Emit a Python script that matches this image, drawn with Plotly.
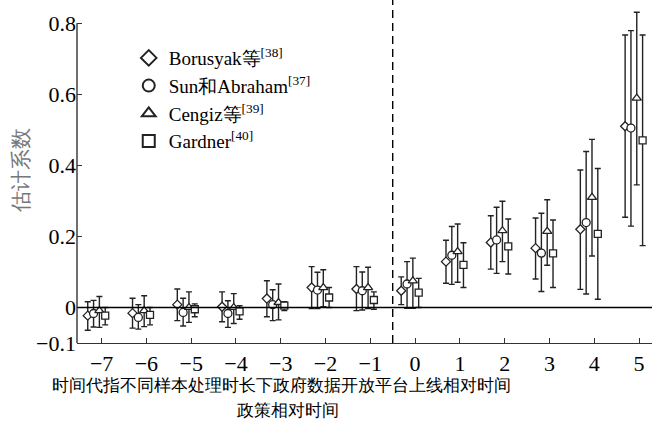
import plotly.graph_objects as go

# Relative period (event time) for each estimate
periods = [-7, -6, -5, -4, -3, -2, -1, 0, 1, 2, 3, 4, 5]

# Borusyak et al. estimator: point estimate, upper and lower CI bounds
borusyak = [-0.023, -0.016, 0.008, 0.002, 0.025, 0.056, 0.052, 0.047, 0.129, 0.183, 0.167, 0.220, 0.510]
borusyak_hi = [0.016, 0.026, 0.052, 0.044, 0.075, 0.115, 0.115, 0.086, 0.189, 0.258, 0.252, 0.387, 0.767]
borusyak_lo = [-0.064, -0.058, -0.037, -0.040, -0.026, -0.003, -0.009, 0.008, 0.068, 0.108, 0.080, 0.051, 0.254]

# Sun & Abraham estimator
sun = [-0.017, -0.028, -0.014, -0.017, 0.008, 0.049, 0.047, 0.066, 0.147, 0.190, 0.153, 0.239, 0.505]
sun_hi = [0.020, 0.008, 0.026, 0.019, 0.050, 0.099, 0.100, 0.129, 0.228, 0.282, 0.265, 0.439, 0.779]
sun_lo = [-0.055, -0.061, -0.052, -0.056, -0.037, -0.003, -0.007, -0.002, 0.065, 0.096, 0.045, 0.038, 0.229]

# Cengiz et al. estimator
cengiz = [-0.009, -0.009, 0.000, 0.000, 0.014, 0.056, 0.056, 0.075, 0.157, 0.216, 0.214, 0.310, 0.589]
cengiz_hi = [0.031, 0.033, 0.044, 0.039, 0.066, 0.106, 0.113, 0.139, 0.235, 0.299, 0.303, 0.473, 0.831]
cengiz_lo = [-0.056, -0.054, -0.042, -0.045, -0.035, 0.002, -0.003, -0.002, 0.071, 0.129, 0.119, 0.145, 0.345]

# Gardner estimator
gardner = [-0.023, -0.021, -0.005, -0.011, 0.005, 0.028, 0.021, 0.042, 0.120, 0.172, 0.152, 0.207, 0.470]
gardner_hi = [0.000, 0.000, 0.010, 0.005, 0.016, 0.056, 0.044, 0.082, 0.182, 0.249, 0.246, 0.391, 0.767]
gardner_lo = [-0.049, -0.049, -0.026, -0.033, -0.009, 0.000, -0.005, 0.000, 0.056, 0.094, 0.056, 0.023, 0.174]

series_names = ["Borusyak等<sup>[38]</sup>", "Sun和Abraham<sup>[37]</sup>",
                "Cengiz等<sup>[39]</sup>", "Gardner<sup>[40]</sup>"]

x_ticks = [-7, -6, -5, -4, -3, -2, -1, 0, 1, 2, 3, 4, 5]
y_ticks = [-0.1, 0, 0.2, 0.4, 0.6, 0.8]
y_ticktext = ["\u22120.1", "0", "0.2", "0.4", "0.6", "0.8"]

x_title = "时间代指不同样本处理时长下政府数据开放平台上线相对时间"
x_title2 = "政策相对时间"
y_title = "估计系数"

SERIF = "Liberation Serif"
INK = "#222222"

# horizontal dodge of each estimator inside a period group
dodge = [-0.31, -0.18, -0.05, 0.08]
symbols = ["diamond", "circle", "triangle-up", "square"]
sizes = [7, 8, 8, 7]

series = [
    (borusyak, borusyak_hi, borusyak_lo),
    (sun, sun_hi, sun_lo),
    (cengiz, cengiz_hi, cengiz_lo),
    (gardner, gardner_hi, gardner_lo),
]

fig = go.Figure()
for k, (est, hi, lo) in enumerate(series):
    fig.add_trace(go.Scatter(
        x=[p + dodge[k] for p in periods],
        y=est,
        mode="markers",
        name=series_names[k],
        marker=dict(symbol=symbols[k], size=sizes[k], color="white",
                    line=dict(color=INK, width=1.3)),
        error_y=dict(type="data", symmetric=False,
                     array=[h - e for h, e in zip(hi, est)],
                     arrayminus=[e - l for e, l in zip(est, lo)],
                     color=INK, thickness=1.4, width=3),
        cliponaxis=False,
    ))

# zero reference line
fig.add_shape(type="line", xref="paper", yref="y", x0=0, x1=1, y0=0, y1=0,
              line=dict(color="black", width=1.4))
# policy onset (dashed)
fig.add_shape(type="line", xref="x", yref="paper", x0=-0.5, x1=-0.5, y0=0, y1=1.03,
              line=dict(color="black", width=1.4, dash="8px,5px"))
# left axis spine, limited to the labelled range
fig.add_shape(type="line", xref="paper", yref="y", x0=0, x1=0, y0=-0.1, y1=0.8,
              line=dict(color="#333333", width=1.4))

# axis titles
fig.add_annotation(x=(21 - 77) / 575, y=0.385, xref="paper", yref="y", text=y_title,
                   textangle=-90, showarrow=False, xanchor="center", yanchor="middle",
                   font=dict(family=SERIF, size=21, color="#777777"))
fig.add_annotation(x=(281 - 77) / 575, y=-(385 - 343) / 334, xref="paper", yref="paper",
                   text=x_title, showarrow=False, xanchor="center", yanchor="middle",
                   font=dict(family=SERIF, size=17, color="black"))
fig.add_annotation(x=(288 - 77) / 575, y=-(410 - 343) / 334, xref="paper", yref="paper",
                   text=x_title2, showarrow=False, xanchor="center", yanchor="middle",
                   font=dict(family=SERIF, size=17, color="black"))

fig.update_layout(
    width=659, height=422,
    margin=dict(l=77, r=7, t=9, b=79),
    paper_bgcolor="white", plot_bgcolor="white",
    font=dict(family=SERIF, size=20, color="black"),
    showlegend=True,
    legend=dict(x=0.09, y=0.91, xanchor="left", yanchor="top",
                bgcolor="rgba(0,0,0,0)", itemsizing="constant",
                tracegroupgap=0, font=dict(family=SERIF, size=19)),
    xaxis=dict(range=[-7.55, 5.29], tickvals=x_ticks, ticks="inside", ticklen=5,
               tickcolor="#333333", tickwidth=1.4, showline=True, linecolor="#333333",
               linewidth=1.4, showgrid=False, zeroline=False,
               tickfont=dict(family=SERIF, size=22)),
    yaxis=dict(range=[-0.1, 0.84], tickvals=y_ticks, ticktext=y_ticktext,
               ticks="inside", ticklen=5, tickcolor="#333333", tickwidth=1.4,
               showline=False, showgrid=False, zeroline=False,
               tickfont=dict(family=SERIF, size=22)),
)

fig.write_html("out.html")
